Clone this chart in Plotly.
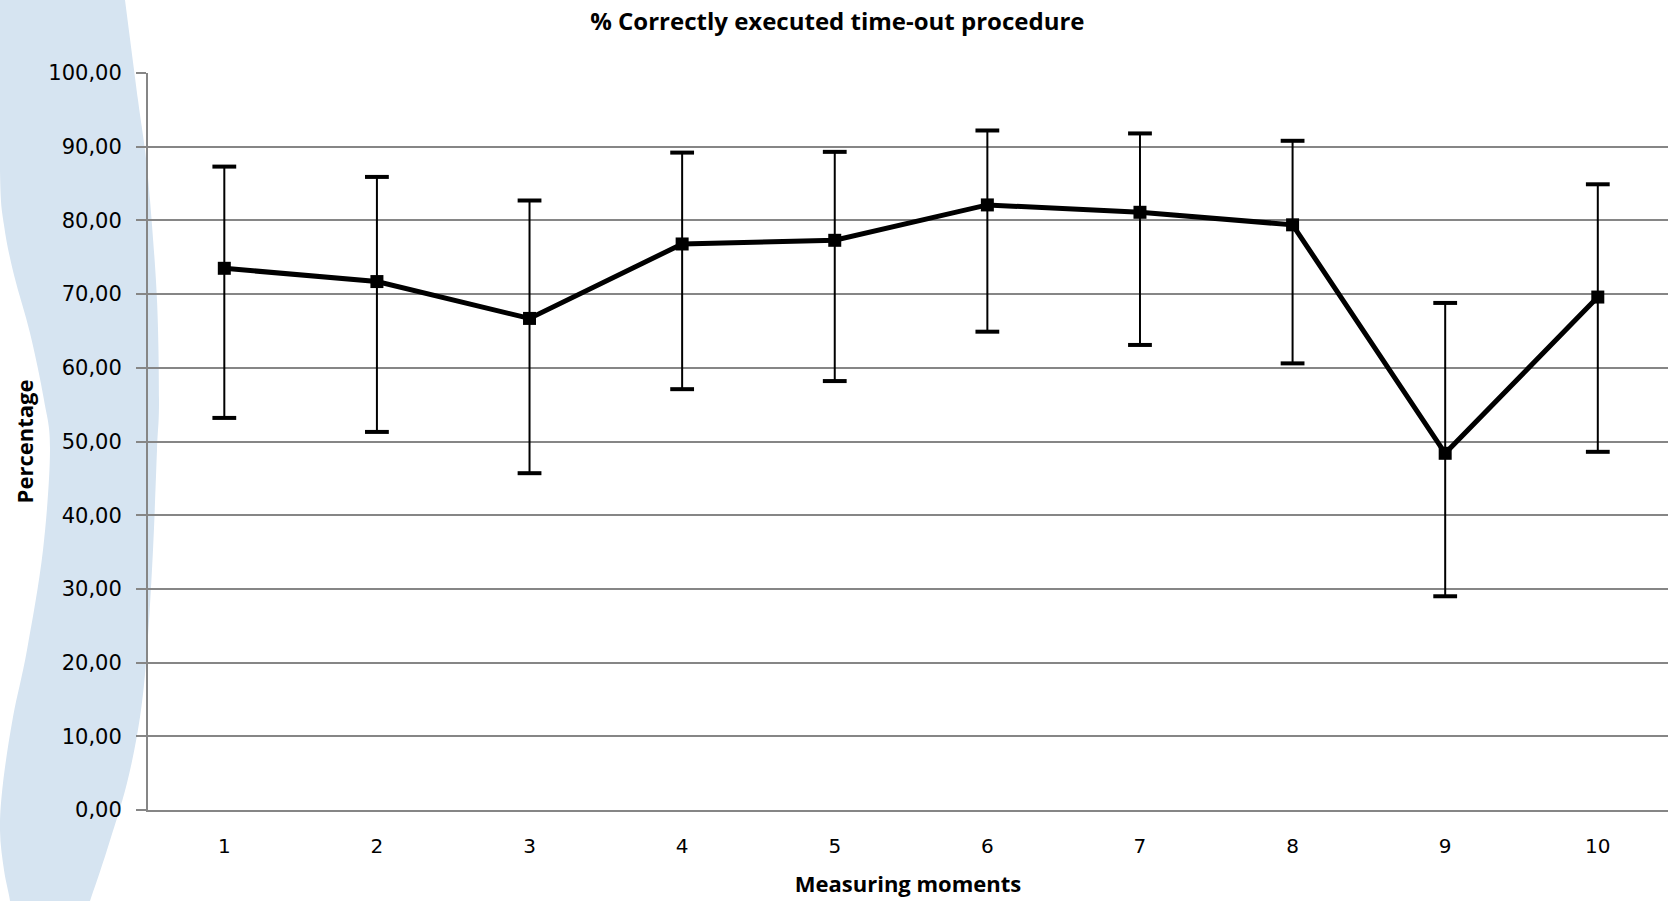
import plotly.graph_objects as go

# ---- data ----
moments = [1, 2, 3, 4, 5, 6, 7, 8, 9, 10]
mean_pct = [73.5, 71.7, 66.7, 76.8, 77.3, 82.1, 81.1, 79.4, 48.4, 69.6]
upper_pct = [87.3, 85.9, 82.7, 89.2, 89.3, 92.2, 91.8, 90.8, 68.8, 84.9]
lower_pct = [53.2, 51.3, 45.7, 57.1, 58.2, 64.9, 63.1, 60.6, 29.0, 48.6]
y_ticks = [0, 10, 20, 30, 40, 50, 60, 70, 80, 90, 100]

err_plus = [u - m for u, m in zip(upper_pct, mean_pct)]
err_minus = [m - l for m, l in zip(mean_pct, lower_pct)]

W, H = 1668, 901
L, R, T, B = 148, 0, 73, 91

fig = go.Figure()

# error bar stems
fig.add_trace(go.Scatter(
    x=moments, y=mean_pct, mode="none", showlegend=False, hoverinfo="skip",
    error_y=dict(type="data", array=err_plus, arrayminus=err_minus,
                 color="black", thickness=2, width=0, visible=True),
))
# error bar caps (thicker, as in the reference)
fig.add_trace(go.Scatter(
    x=moments + moments, y=upper_pct + lower_pct, mode="markers",
    showlegend=False, hoverinfo="skip",
    marker=dict(symbol="line-ew", size=17, line=dict(width=4, color="black"), color="black"),
))
# main series
fig.add_trace(go.Scatter(
    x=moments, y=mean_pct, mode="lines+markers", showlegend=False,
    line=dict(color="black", width=5),
    marker=dict(symbol="square", size=13, color="black"),
))

# decorative light-blue ribbon on the left (background only)
def to_paper(px, py):
    return (px - L) / (W - L - R), (H - B - py) / (H - T - B)

right_edge = [(124, -8), (125, 0), (138, 100), (145, 150), (150, 200), (157, 300),
              (159, 400), (157, 450), (153, 550), (147, 650), (140, 717),
              (127, 783), (107, 850), (90, 901), (87, 910)]
left_edge = [(8, 910), (10, 901), (4, 870), (0, 830), (3, 783), (13, 717),
             (27, 650), (43, 550), (50, 450), (44, 400), (30, 333), (14, 275),
             (4, 225), (0, 170), (0, -8)]

def open_spline(pts):
    segs = []
    n = len(pts)
    for i in range(n - 1):
        p0 = pts[max(i - 1, 0)]; p1 = pts[i]; p2 = pts[i + 1]; p3 = pts[min(i + 2, n - 1)]
        c1 = (p1[0] + (p2[0] - p0[0]) / 6, p1[1] + (p2[1] - p0[1]) / 6)
        c2 = (p2[0] - (p3[0] - p1[0]) / 6, p2[1] - (p3[1] - p1[1]) / 6)
        a = to_paper(*c1); b = to_paper(*c2); c = to_paper(*p2)
        segs.append("C {:.5f},{:.5f} {:.5f},{:.5f} {:.5f},{:.5f}".format(*a, *b, *c))
    return " ".join(segs)

path = "M {:.5f},{:.5f} ".format(*to_paper(*right_edge[0]))
path += open_spline(right_edge)
path += " L {:.5f},{:.5f} ".format(*to_paper(*left_edge[0]))
path += open_spline(left_edge)
path += " Z"

fig.add_shape(type="path", xref="paper", yref="paper", path=path,
              fillcolor="rgb(214,228,241)", line=dict(width=0), layer="below")

grid_col = "#868686"
fig.update_layout(
    width=W, height=H,
    margin=dict(l=L, r=R, t=T, b=B, pad=0),
    paper_bgcolor="white", plot_bgcolor="rgba(0,0,0,0)",
    separators=", ",
    title=dict(text="<b>% Correctly executed time-out procedure</b>",
               x=0.502, xanchor="center", y=1 - 22 / H, yanchor="middle",
               font=dict(family="Open Sans", size=24, color="black")),
    xaxis=dict(
        range=[0.5, 10.46], tickmode="array", tickvals=moments,
        ticktext=[str(m) for m in moments],
        showgrid=False, zeroline=False, automargin=False,
        showline=True, linecolor=grid_col, linewidth=2,
        ticks="", ticklabelstandoff=17,
        tickfont=dict(family="DejaVu Sans", size=20, color="black"),
        title=dict(text="<b>Measuring moments</b>", standoff=20,
                   font=dict(family="Open Sans", size=22, color="black")),
    ),
    yaxis=dict(
        range=[0, 100], tickmode="array", tickvals=y_ticks, tickformat=".2f",
        showgrid=True, gridcolor=grid_col, gridwidth=2, zeroline=False,
        automargin=False,
        showline=True, linecolor=grid_col, linewidth=2,
        ticks="outside", ticklen=10, tickwidth=2, tickcolor=grid_col,
        ticklabelstandoff=10,
        tickfont=dict(family="DejaVu Sans", size=21, color="black"),
        title=dict(text="<b>Percentage</b>", standoff=9,
                   font=dict(family="Open Sans", size=22, color="black")),
    ),
)

fig.write_html("out.html", config={"displayModeBar": False},
               post_script="document.body.style.margin='0';document.body.style.overflow='hidden';")
